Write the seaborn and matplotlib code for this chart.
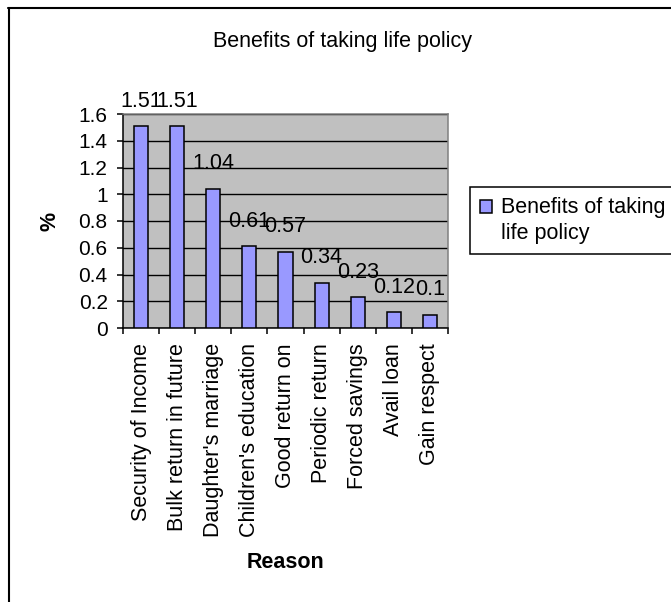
import matplotlib
matplotlib.use("Agg")
import matplotlib.pyplot as plt
from matplotlib.lines import Line2D
from matplotlib.ticker import FixedLocator, FormatStrFormatter
import seaborn as sns
import pandas as pd

# Share of respondents per reason
reasons = [
    "Security of Income",
    "Bulk return in future",
    "Daughter's marriage",
    "Children's education",
    "Good return on",
    "Periodic return",
    "Forced savings",
    "Avail loan",
    "Gain respect",
]
percent = [1.51, 1.51, 1.04, 0.61, 0.57, 0.34, 0.23, 0.12, 0.10]
y_ticks = [0, 0.2, 0.4, 0.6, 0.8, 1.0, 1.2, 1.4, 1.6]

series_name = "Benefits of taking life policy"
legend_label = "Benefits of taking\nlife policy"

sns.set_style("white")
plt.rcParams["font.family"] = ["Liberation Sans", "DejaVu Sans"]
for key in ("text.color", "axes.labelcolor", "xtick.color", "ytick.color"):
    plt.rcParams[key] = "black"

df = pd.DataFrame({"Reason": reasons, "%": percent})

W, H = 671, 602
fig = plt.figure(figsize=(W / 100, H / 100), dpi=100)
ax = fig.add_axes([123 / W, 1 - 328 / H, (448 - 123) / W, (328 - 114) / H])

sns.barplot(data=df, x="Reason", y="%", color="#9999FF", saturation=1,
            width=0.39, edgecolor="black", linewidth=1.1, ax=ax,
            label=legend_label, zorder=3)

ax.set_facecolor("#C0C0C0")
ax.set_ylim(0, 1.6)
ax.set_xlim(-0.5, len(reasons) - 0.5)
ax.yaxis.set_major_locator(FixedLocator(y_ticks))
ax.yaxis.set_major_formatter(FormatStrFormatter("%g"))
ax.yaxis.grid(True, color="black", linewidth=1.0)
ax.set_axisbelow(True)

# tick marks sit between categories, labels at category centres
ax.set_xticks(range(len(reasons)))
ax.set_xticklabels(reasons, rotation=90, fontsize=15.5)
ax.set_xticks([i - 0.5 for i in range(len(reasons) + 1)], minor=True)
ax.tick_params(axis="x", which="major", length=0, pad=11)
ax.tick_params(axis="x", which="minor", direction="out", length=4,
               width=1.1, color="black", bottom=True)
ax.tick_params(axis="y", which="major", direction="out", length=4,
               width=1.1, color="black", labelsize=15, pad=7, left=True)

for side in ("left", "bottom"):
    ax.spines[side].set_color("black")
    ax.spines[side].set_linewidth(1.1)
for side in ("top", "right"):
    ax.spines[side].set_visible(True)
    ax.spines[side].set_color("#808080")
    ax.spines[side].set_linewidth(1.1)

# value labels above the bars
ax.bar_label(ax.containers[0], labels=[f"{v:g}" for v in percent],
             padding=10.4, fontsize=15.5, color="black")

ax.set_xlabel("Reason", fontsize=15.5, fontweight="bold", va="center")
ax.xaxis.set_label_coords(0.5, (328 - 563) / 214)
ax.set_ylabel("%", fontsize=15.5, fontweight="bold", rotation=90,
              va="center", ha="center")
ax.yaxis.set_label_coords((50 - 123) / 325, 0.5)

fig.text(343 / W, 1 - 42 / H, series_name, ha="center", va="center",
         fontsize=15.5, color="black")

leg = ax.legend(loc="upper left", bbox_to_anchor=(470 / W, 1 - 187 / H),
                bbox_transform=fig.transFigure, borderaxespad=0,
                fontsize=15.5, frameon=True, fancybox=False, shadow=False,
                handlelength=0.55, handleheight=0.55, handletextpad=0.45,
                borderpad=0.45, framealpha=1)
leg.get_frame().set_edgecolor("black")
leg.get_frame().set_linewidth(1.1)
for t in leg.get_texts():
    t.set_linespacing(1.35)
    t.set_color("black")
# line the swatch up with the first line of the label
for h in leg.legend_handles:
    h.set_y(h.get_y() + 10.0)

# chart-area border (left and top edges)
fig.add_artist(Line2D([9 / W, 9 / W], [0, 1 - 7.7 / H], color="black",
                      linewidth=1.5, transform=fig.transFigure))
fig.add_artist(Line2D([8 / W, 1], [1 - 7.7 / H, 1 - 7.7 / H], color="black",
                      linewidth=1.5, transform=fig.transFigure))

fig.savefig("out.png", dpi=100)
